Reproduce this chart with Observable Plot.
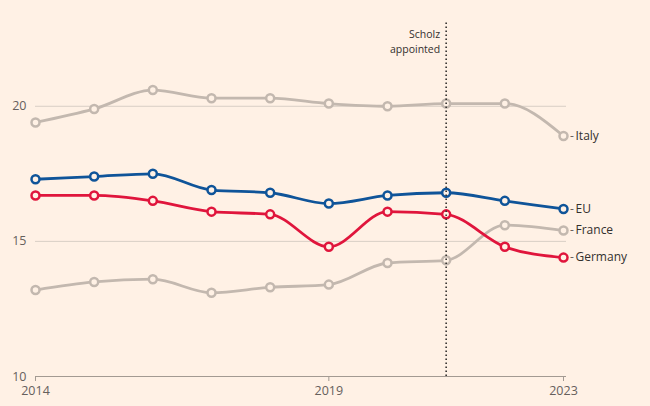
<!DOCTYPE html>
<html>
<head>
<meta charset="utf-8">
<script src="https://cdn.jsdelivr.net/npm/d3@7"></script>
<script src="https://cdn.jsdelivr.net/npm/@observablehq/plot@0.6"></script>
<style>
  html, body { margin: 0; padding: 0; background: #fff1e5; }
  #chart svg { display: block; }
</style>
</head>
<body>
<div id="chart"></div>
<script>
const years = [2014, 2015, 2016, 2017, 2018, 2019, 2020, 2021, 2022, 2023];
const italy   = [19.4, 19.9, 20.6, 20.3, 20.3, 20.1, 20.0, 20.1, 20.1, 18.9];
const eu      = [17.3, 17.4, 17.5, 16.9, 16.8, 16.4, 16.7, 16.8, 16.5, 16.2];
const germany = [16.7, 16.7, 16.5, 16.1, 16.0, 14.8, 16.1, 16.0, 14.8, 14.4];
const france  = [13.2, 13.5, 13.6, 13.1, 13.3, 13.4, 14.2, 14.3, 15.6, 15.4];
const yTicks = [10, 15, 20];
const xTicks = [2014, 2019, 2023];
const eventYear = 2021;
const eventLabel = "Scholz\nappointed";

const seriesList = [
  {name: "Italy", values: italy, color: "#c3b8af"},
  {name: "France", values: france, color: "#c3b8af"},
  {name: "Germany", values: germany, color: "#e0153c"},
  {name: "EU", values: eu, color: "#0f5499"}
];
const rows = seriesList.flatMap(s => years.map((y, i) => ({series: s.name, year: y, value: s.values[i], color: s.color})));
const last = rows.filter(d => d.year === years[years.length - 1]);
const font = "'Open Sans', 'Noto Sans', sans-serif";

const marks = [
  Plot.ruleY(yTicks.filter(t => t !== 10), {stroke: "#d9cec5", strokeWidth: 1, insetRight: -3}),
  Plot.ruleY([10], {stroke: "#a39a92", strokeWidth: 1, insetRight: -3}),
  Plot.axisY({ticks: yTicks, tickSize: 0, tickPadding: 9, fontSize: 12.5, fill: "#66605c", tickFormat: d => d, label: null}),
  Plot.axisX({ticks: xTicks, tickSize: 5, tickPadding: 5, stroke: "#a39a92", fontSize: 12.5, fill: "#66605c", tickFormat: d => String(d), label: null})
];
for (const s of seriesList) {
  const data = rows.filter(d => d.series === s.name);
  marks.push(Plot.line(data, {x: "year", y: "value", stroke: s.color, strokeWidth: 2.8, curve: "monotone-x"}));
  marks.push(Plot.dot(data, {x: "year", y: "value", r: 4, stroke: s.color, strokeWidth: 2.5, fill: "#fff1e5"}));
}
marks.push(
  Plot.ruleX([eventYear], {y1: 10, y2: 23.1, stroke: "#33302e", strokeWidth: 1.6, strokeDasharray: "1.5,2.5"}),
  Plot.text([eventLabel], {x: eventYear, y: 23.1, text: d => d, textAnchor: "end", lineAnchor: "top", dx: -6, dy: 5, fontSize: 10.5, fill: "#33302e", lineHeight: 1.4, fontFamily: font}),
  Plot.text(last, {x: "year", y: "value", text: () => "-", dx: 8.5, textAnchor: "middle", fontSize: 12, fill: "#66605c", fontFamily: font}),
  Plot.text(last, {x: "year", y: "value", text: "series", dx: 12, textAnchor: "start", fontSize: 12, fill: "#33302e", fontFamily: font})
);

const chart = Plot.plot({
  width: 650,
  height: 406,
  marginTop: 22,
  marginBottom: 30,
  marginLeft: 35,
  marginRight: 87,
  style: {background: "#fff1e5", fontFamily: font, overflow: "visible"},
  x: {domain: [2014, 2023]},
  y: {domain: [10, 23.1]},
  marks
});
document.getElementById("chart").appendChild(chart);
</script>
</body>
</html>
